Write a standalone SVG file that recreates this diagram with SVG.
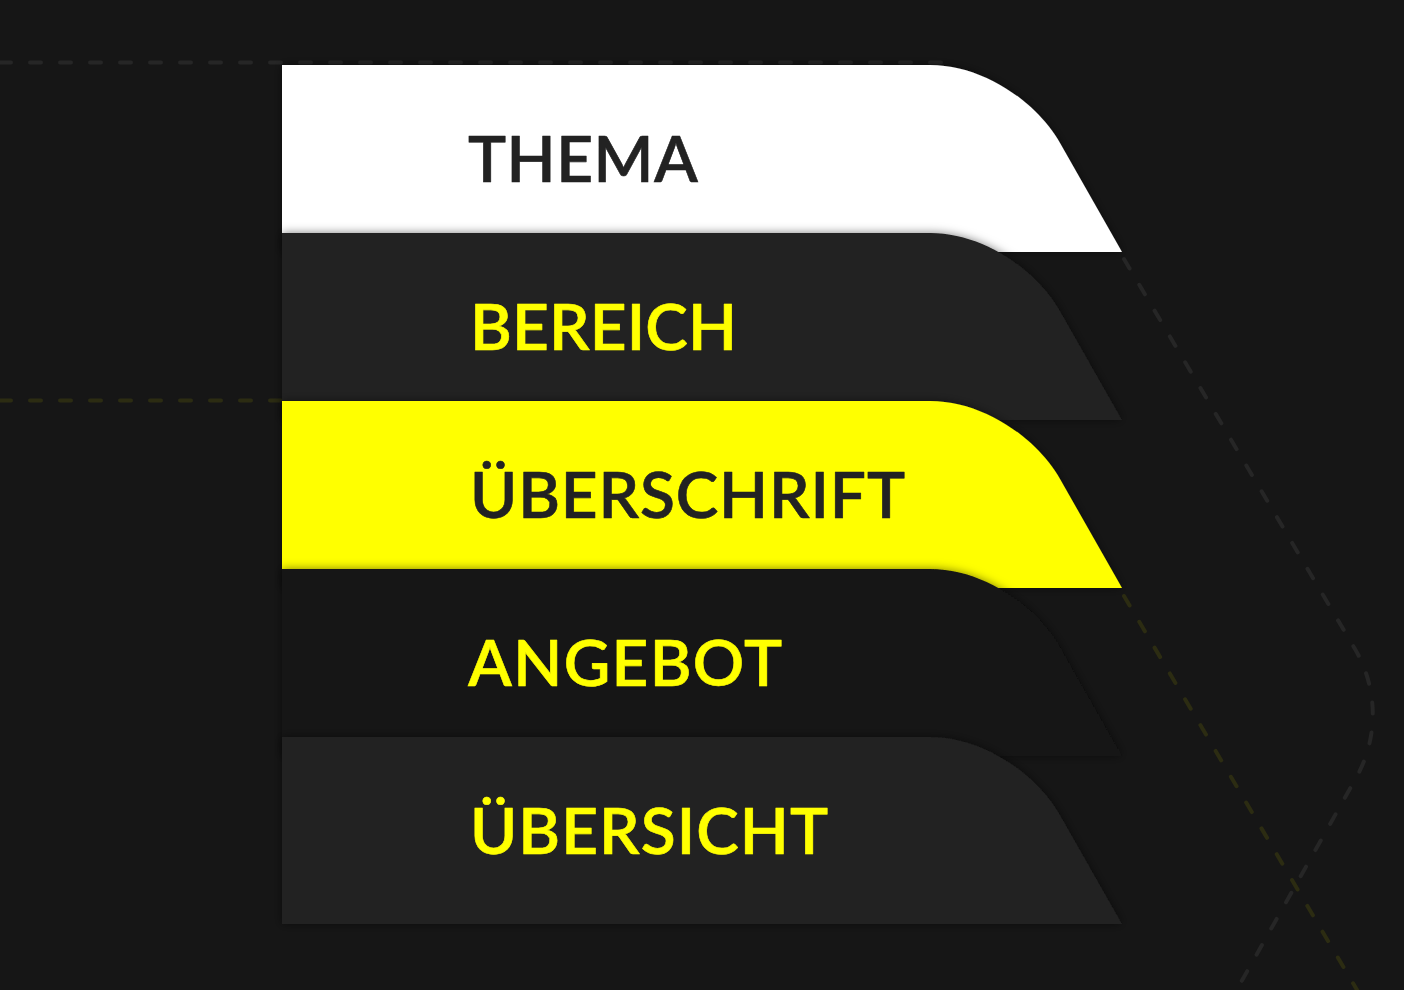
<svg xmlns="http://www.w3.org/2000/svg" width="1404" height="990" viewBox="0 0 1404 990">
  <style>
    .guide { fill: none; stroke-width: 4; stroke-linecap: round; stroke-dasharray: 11 19; }
    .grey { stroke: #262626; }
    .yel { stroke: #2c2c12; }
    .band { filter: url(#sh); }
    .lbl { font-family: "Lato", "Liberation Sans", sans-serif; font-weight: 600; font-size: 64px; stroke-width: 0.6; stroke-linejoin: round; }
    .dk { fill: #222222; stroke: #222222; }
    .yl { fill: #ffff00; stroke: #ffff00; }
  </style>
  <defs>
    <filter id="sh" x="-10%" y="-20%" width="120%" height="140%">
      <feDropShadow dx="0" dy="0" stdDeviation="5" flood-color="#000" flood-opacity="0.5"/>
    </filter>
    <path id="shape" d="M282,0 H930 C985,0 1037.9,38.8 1060,78 L1122,187 H282 Z"/>
  </defs>
  <rect width="1404" height="990" fill="#161616"/>

  <g id="connectors">
    <path class="guide grey" d="M0,62.5 H945"/>
    <path class="guide grey" d="M1124,259 L1355,649 A129,129 0 0 1 1356,778 L1231,1000"/>
    <path class="guide yel" d="M0,400.5 H945"/>
    <path class="guide yel" d="M1124,596 L1360,995"/>
  </g>

  <g id="thema">
    <use href="#shape" class="band" fill="#ffffff" transform="translate(0,65)"/>
    <text class="lbl dk" x="468" y="182" textLength="230" lengthAdjust="spacing">THEMA</text>
  </g>
  <g id="bereich">
    <use href="#shape" class="band" fill="#202020" transform="translate(0,233)"/>
    <text class="lbl yl" x="470" y="350" textLength="267" lengthAdjust="spacing">BEREICH</text>
  </g>
  <g id="ueberschrift">
    <use href="#shape" class="band" fill="#ffff00" transform="translate(0,401)"/>
    <text class="lbl dk" x="470" y="518" textLength="435" lengthAdjust="spacing">ÜBERSCHRIFT</text>
  </g>
  <g id="angebot">
    <use href="#shape" class="band" fill="#141414" transform="translate(0,569)"/>
    <text class="lbl yl" x="468" y="686" textLength="314" lengthAdjust="spacing">ANGEBOT</text>
  </g>
  <g id="uebersicht">
    <use href="#shape" class="band" fill="#202020" transform="translate(0,737)"/>
    <text class="lbl yl" x="470" y="854" textLength="358" lengthAdjust="spacing">ÜBERSICHT</text>
  </g>
</svg>
